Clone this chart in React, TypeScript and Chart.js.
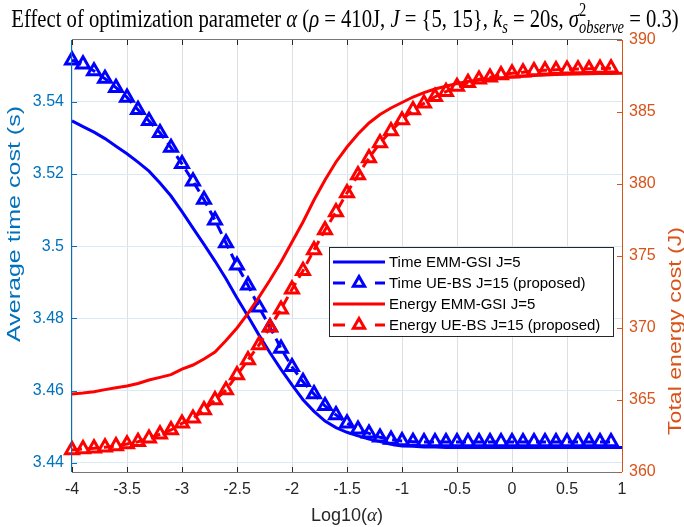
import React, { useEffect, useRef } from 'react';
import { Chart, registerables } from 'chart.js';

Chart.register(...registerables);

// ---------------- data ----------------
const xMarkers = [-4, -3.9, -3.8, -3.7, -3.6, -3.5, -3.4, -3.3, -3.2, -3.1, -3, -2.9, -2.8, -2.7, -2.6, -2.5, -2.4, -2.3, -2.2, -2.1, -2, -1.9, -1.8, -1.7, -1.6, -1.5, -1.4, -1.3, -1.2, -1.1, -1, -0.9, -0.8, -0.7, -0.6, -0.5, -0.4, -0.3, -0.2, -0.1, 0, 0.1, 0.2, 0.3, 0.4, 0.5, 0.6, 0.7, 0.8, 0.9];
const xLine = [-4, -3.9, -3.8, -3.7, -3.6, -3.5, -3.4, -3.3, -3.2, -3.1, -3, -2.9, -2.8, -2.7, -2.6, -2.5, -2.4, -2.3, -2.2, -2.1, -2, -1.9, -1.8, -1.7, -1.6, -1.5, -1.4, -1.3, -1.2, -1.1, -1, -0.9, -0.8, -0.7, -0.6, -0.5, -0.4, -0.3, -0.2, -0.1, 0, 0.1, 0.2, 0.3, 0.4, 0.5, 0.6, 0.7, 0.8, 0.9, 1];

const timeEmmGsi = [3.5347, 3.5331, 3.5316, 3.5298, 3.5277, 3.5256, 3.5233, 3.5208, 3.5175, 3.5139, 3.5096, 3.5050, 3.5005, 3.4959, 3.4910, 3.4857, 3.4806, 3.4754, 3.4705, 3.4659, 3.4616, 3.4575, 3.4543, 3.4516, 3.4498, 3.4485, 3.4475, 3.4466, 3.4459, 3.4452, 3.4447, 3.4446, 3.4444, 3.4444, 3.4443, 3.4443, 3.4443, 3.4443, 3.4443, 3.4443, 3.4443, 3.4443, 3.4443, 3.4443, 3.4443, 3.4443, 3.4443, 3.4443, 3.4443, 3.4443, 3.4443];
const timeUeBs = [3.5515, 3.5504, 3.5485, 3.5464, 3.5439, 3.5412, 3.5378, 3.5347, 3.5314, 3.5273, 3.5228, 3.5180, 3.5129, 3.5072, 3.5009, 3.4947, 3.4892, 3.4831, 3.4776, 3.4717, 3.4666, 3.4625, 3.4591, 3.4558, 3.4533, 3.4510, 3.4493, 3.4482, 3.4471, 3.4465, 3.4461, 3.4459, 3.4458, 3.4458, 3.4458, 3.4458, 3.4458, 3.4458, 3.4458, 3.4458, 3.4458, 3.4458, 3.4458, 3.4458, 3.4458, 3.4458, 3.4458, 3.4458, 3.4458, 3.4458];
const energyEmmGsi = [365.42, 365.49, 365.58, 365.72, 365.85, 365.97, 366.15, 366.39, 366.57, 366.76, 367.15, 367.43, 367.85, 368.33, 369.13, 370.00, 371.01, 372.15, 373.33, 374.58, 375.97, 377.36, 378.89, 380.28, 381.53, 382.57, 383.47, 384.24, 384.83, 385.28, 385.66, 386.04, 386.35, 386.60, 386.79, 386.98, 387.12, 387.22, 387.31, 387.38, 387.43, 387.48, 387.53, 387.57, 387.60, 387.62, 387.64, 387.65, 387.67, 387.68, 387.69];
const energyUeBs = [361.53, 361.60, 361.65, 361.72, 361.81, 361.94, 362.10, 362.34, 362.62, 362.92, 363.38, 363.73, 364.31, 365.00, 365.69, 366.74, 367.78, 368.82, 370.05, 371.30, 372.69, 373.98, 375.42, 376.81, 378.06, 379.38, 380.63, 381.81, 382.85, 383.68, 384.44, 385.14, 385.60, 386.06, 386.41, 386.76, 387.03, 387.27, 387.41, 387.57, 387.69, 387.76, 387.85, 387.90, 387.93, 387.96, 387.98, 388.00, 388.02, 388.04];

const seriesLabels = ['Time EMM-GSI J=5', 'Time UE-BS J=15 (proposed)', 'Energy EMM-GSI J=5', 'Energy UE-BS J=15 (proposed)'];

const xTicks = [-4, -3.5, -3, -2.5, -2, -1.5, -1, -0.5, 0, 0.5, 1];
const leftTicks = [3.44, 3.46, 3.48, 3.5, 3.52, 3.54];
const rightTicks = [360, 365, 370, 375, 380, 385, 390];

const xTitle = ['Log10(', 'α', ')'];
const leftTitle = 'Average time cost (s)';
const rightTitle = 'Total energy cost (J)';

// title pieces: style r = roman, i = italic, sub/sup scripts
const titlePieces: any[] = [
  { t: 'Effect of optimization parameter ', s: 'r' },
  { t: 'α', s: 'i' },
  { t: ' (', s: 'r' },
  { t: 'ρ', s: 'i' },
  { t: ' = 410J, ', s: 'r' },
  { t: 'J', s: 'i' },
  { t: ' = {5, 15}, ', s: 'r' },
  { t: 'k', s: 'i' },
  { sub: 's' },
  { t: ' = 20s, ', s: 'r' },
  { t: 'σ', s: 'i' },
  { sup: '2', sub: 'observe' },
  { t: ' = 0.3)', s: 'r' },
];

// ---------------- styles ----------------
const BLUE = '#0000ff';
const RED = '#ff0000';
const AX_BLUE = 'rgb(0,114,189)';
const AX_ORANGE = 'rgb(217,83,25)';
const AX_DARK = 'rgb(38,38,38)';
const SANS = '"Liberation Sans", Arial, Helvetica, sans-serif';
const SERIF = '"Liberation Serif", "Times New Roman", serif';
const MARKER_R = 7.4;
const MARKER_W = 3;

const framePlugin = {
  id: 'matlabFrame',
  afterDatasetsDraw(chart: any) {
    const ctx = chart.ctx;
    const { left, right, top, bottom } = chart.chartArea;
    const xs = chart.scales.x;
    const yl = chart.scales.yL;
    const yr = chart.scales.yR;
    const tl = 5;
    ctx.save();
    ctx.lineWidth = 1;
    ctx.strokeStyle = 'rgb(120,120,120)';
    ctx.beginPath();
    ctx.moveTo(left, bottom + 0.5);
    ctx.lineTo(right, bottom + 0.5);
    ctx.moveTo(left, top - 0.5);
    ctx.lineTo(right, top - 0.5);
    ctx.stroke();
    ctx.strokeStyle = AX_DARK;
    ctx.beginPath();
    xTicks.forEach((v) => {
      const px = Math.round(xs.getPixelForValue(v)) + 0.5;
      ctx.moveTo(px, bottom);
      ctx.lineTo(px, bottom - tl);
      ctx.moveTo(px, top);
      ctx.lineTo(px, top + tl);
    });
    ctx.stroke();
    ctx.strokeStyle = AX_BLUE;
    ctx.beginPath();
    ctx.moveTo(left - 0.5, top);
    ctx.lineTo(left - 0.5, bottom);
    leftTicks.forEach((v) => {
      const py = Math.round(yl.getPixelForValue(v)) + 0.5;
      ctx.moveTo(left, py);
      ctx.lineTo(left + tl, py);
    });
    ctx.stroke();
    ctx.strokeStyle = AX_ORANGE;
    ctx.beginPath();
    ctx.moveTo(right + 0.5, top);
    ctx.lineTo(right + 0.5, bottom);
    rightTicks.forEach((v) => {
      const py = Math.round(yr.getPixelForValue(v)) + 0.5;
      ctx.moveTo(right, py);
      ctx.lineTo(right - tl, py);
    });
    ctx.stroke();
    ctx.restore();
  },
  afterDraw(chart: any) {
    const ctx = chart.ctx;
    const { left, right, top } = chart.chartArea;
    ctx.save();

    // ---- title ----
    const fsBase = 20;
    const measure = (fs: number) => {
      let w = 0;
      titlePieces.forEach((p) => {
        if (p.t !== undefined) {
          ctx.font = `${p.s === 'i' ? 'italic ' : ''}${fs}px ${SERIF}`;
          w += ctx.measureText(p.t).width;
        } else {
          let sw = 0;
          ctx.font = `italic ${fs * 0.7}px ${SERIF}`;
          if (p.sub) sw = Math.max(sw, ctx.measureText(p.sub).width);
          ctx.font = `${fs * 0.7}px ${SERIF}`;
          if (p.sup) sw = Math.max(sw, ctx.measureText(p.sup).width);
          w += sw;
        }
      });
      return w;
    };
    const wBase = measure(fsBase);
    const fs = (fsBase * 668) / wBase;
    const w = measure(fs);
    let tx = 345 - w / 2;
    ctx.fillStyle = '#000';
    ctx.textBaseline = 'alphabetic';
    ctx.textAlign = 'left';
    ctx.translate(0, 27);
    ctx.scale(1, 1.25);
    titlePieces.forEach((p) => {
      if (p.t !== undefined) {
        ctx.font = `${p.s === 'i' ? 'italic ' : ''}${fs}px ${SERIF}`;
        ctx.fillText(p.t, tx, 0);
        tx += ctx.measureText(p.t).width;
      } else {
        let sw = 0;
        if (p.sup) {
          ctx.font = `${fs * 0.7}px ${SERIF}`;
          ctx.fillText(p.sup, tx, -fs * 0.42);
          sw = Math.max(sw, ctx.measureText(p.sup).width);
        }
        if (p.sub) {
          ctx.font = `italic ${fs * 0.7}px ${SERIF}`;
          ctx.fillText(p.sub, tx, fs * 0.25);
          sw = Math.max(sw, ctx.measureText(p.sub).width);
        }
        tx += sw;
      }
    });
    ctx.restore();

    // ---- axis titles ----
    ctx.save();
    ctx.textAlign = 'center';
    ctx.textBaseline = 'middle';
    ctx.font = `19px ${SANS}`;
    ctx.save();
    ctx.fillStyle = AX_BLUE;
    ctx.translate(15, 224);
    ctx.rotate(-Math.PI / 2);
    const lw = ctx.measureText(leftTitle).width;
    ctx.scale(236 / lw, 1);
    ctx.fillText(leftTitle, 0, 0);
    ctx.restore();
    ctx.save();
    ctx.fillStyle = AX_ORANGE;
    ctx.translate(676, 331);
    ctx.rotate(-Math.PI / 2);
    const rw = ctx.measureText(rightTitle).width;
    ctx.scale(208 / rw, 1);
    ctx.fillText(rightTitle, 0, 0);
    ctx.restore();
    ctx.fillStyle = AX_DARK;
    ctx.textAlign = 'left';
    ctx.font = `18px ${SANS}`;
    const a = ctx.measureText(xTitle[0]).width;
    ctx.font = `italic 19px ${SERIF}`;
    const b = ctx.measureText(xTitle[1]).width;
    ctx.font = `18px ${SANS}`;
    const c = ctx.measureText(xTitle[2]).width;
    let xx = (left + right) / 2 - (a + b + c) / 2;
    const yy = 516;
    ctx.fillText(xTitle[0], xx, yy);
    xx += a;
    ctx.font = `italic 19px ${SERIF}`;
    ctx.fillText(xTitle[1], xx, yy);
    xx += b;
    ctx.font = `18px ${SANS}`;
    ctx.fillText(xTitle[2], xx, yy);
    ctx.restore();

    // ---- legend ----
    ctx.save();
    const lx = left + 257;
    const ly = top + 207;
    const lwid = 284;
    const lh = 89;
    ctx.fillStyle = '#fff';
    ctx.fillRect(lx, ly, lwid, lh);
    ctx.strokeStyle = AX_DARK;
    ctx.lineWidth = 1;
    ctx.strokeRect(lx + 0.5, ly + 0.5, lwid, lh);
    const colors = [BLUE, BLUE, RED, RED];
    ctx.font = `15px ${SANS}`;
    ctx.textBaseline = 'middle';
    ctx.textAlign = 'left';
    seriesLabels.forEach((lab, i) => {
      const cy = ly + 15 + i * 21;
      const x0 = lx + 4;
      const x1 = lx + 56;
      ctx.strokeStyle = colors[i];
      ctx.lineWidth = 3;
      if (i % 2 === 0) {
        ctx.beginPath();
        ctx.moveTo(x0, cy);
        ctx.lineTo(x1, cy);
        ctx.stroke();
      } else {
        ctx.beginPath();
        ctx.moveTo(x0, cy);
        ctx.lineTo(x0 + 12, cy);
        ctx.moveTo(x1 - 10, cy);
        ctx.lineTo(x1, cy);
        ctx.stroke();
        const mx = (x0 + x1) / 2;
        const r = 6.5;
        ctx.lineWidth = MARKER_W;
        ctx.beginPath();
        ctx.moveTo(mx, cy - r);
        ctx.lineTo(mx + r * 0.866, cy + r * 0.5);
        ctx.lineTo(mx - r * 0.866, cy + r * 0.5);
        ctx.closePath();
        ctx.stroke();
      }
      ctx.fillStyle = '#000';
      ctx.fillText(lab, lx + 60, cy + 1);
    });
    ctx.restore();
  },
};

function mk(xs: number[], ys: number[]) {
  return xs.map((x, i) => ({ x, y: ys[i] }));
}

export default function App() {
  const ref = useRef<HTMLCanvasElement | null>(null);
  useEffect(() => {
    document.body.style.margin = '0';
    const canvas = ref.current!;
    const markerDs = (label: string, xs: number[], ys: number[], axis: string, color: string, order: number) => ({
      label,
      data: mk(xs, ys),
      yAxisID: axis,
      borderColor: color,
      borderWidth: 3,
      borderDash: [10, 6],
      pointStyle: 'triangle',
      pointRadius: MARKER_R,
      pointBorderWidth: MARKER_W,
      pointBorderColor: color,
      pointBackgroundColor: 'rgba(0,0,0,0)',
      tension: 0,
      order,
      clip: false,
    });
    const lineDs = (label: string, xs: number[], ys: number[], axis: string, color: string, order: number) => ({
      label,
      data: mk(xs, ys),
      yAxisID: axis,
      borderColor: color,
      borderWidth: 3,
      pointRadius: 0,
      tension: 0,
      order,
      clip: false,
    });
    const chart = new Chart(canvas, {
      type: 'line',
      data: {
        datasets: [
          lineDs(seriesLabels[0], xLine, timeEmmGsi, 'yL', BLUE, 4),
          markerDs(seriesLabels[1], xMarkers, timeUeBs, 'yL', BLUE, 3),
          lineDs(seriesLabels[2], xLine, energyEmmGsi, 'yR', RED, 2),
          markerDs(seriesLabels[3], xMarkers, energyUeBs, 'yR', RED, 1),
        ],
      },
      options: {
        responsive: false,
        animation: false,
        layout: { padding: { top: 40, left: 0, right: 0, bottom: 0 } },
        plugins: {
          legend: { display: false },
          title: { display: false },
          tooltip: { enabled: false },
        },
        scales: {
          x: {
            type: 'linear',
            min: -4,
            max: 1,
            afterBuildTicks: (s: any) => {
              s.ticks = xTicks.map((v) => ({ value: v }));
            },
            afterFit: (s: any) => {
              s.height = 55;
            },
            ticks: {
              color: AX_DARK,
              font: { family: SANS, size: 16 },
              padding: 8,
              maxRotation: 0,
              autoSkip: false,
              callback: (v: any) => String(v),
            },
            grid: { color: 'rgb(223,223,223)', drawTicks: false, lineWidth: 1 },
            border: { display: false },
          },
          yL: {
            type: 'linear',
            position: 'left',
            min: 3.4375,
            max: 3.5571,
            afterBuildTicks: (s: any) => {
              s.ticks = leftTicks.map((v) => ({ value: v }));
            },
            afterFit: (s: any) => {
              s.width = 72;
            },
            ticks: {
              color: AX_BLUE,
              font: { family: SANS, size: 16 },
              padding: 8,
              autoSkip: false,
              callback: (v: any) => String(v),
            },
            grid: { color: 'rgb(217,234,245)', drawTicks: false, lineWidth: 1 },
            border: { display: false },
          },
          yR: {
            type: 'linear',
            position: 'right',
            min: 360,
            max: 390,
            afterBuildTicks: (s: any) => {
              s.ticks = rightTicks.map((v) => ({ value: v }));
            },
            afterFit: (s: any) => {
              s.width = 62;
            },
            ticks: {
              color: AX_ORANGE,
              font: { family: SANS, size: 16 },
              padding: 7,
              autoSkip: false,
              callback: (v: any) => String(v),
            },
            grid: { display: false, drawTicks: false },
            border: { display: false },
          },
        },
      },
      plugins: [framePlugin],
    } as any);
    return () => chart.destroy();
  }, []);
  return (
    <div style={{ position: 'absolute', left: 0, top: 0, width: 684, height: 527, background: '#fff' }}>
      <canvas ref={ref} width={684} height={527} style={{ display: 'block', width: 684, height: 527 }} />
    </div>
  );
}
